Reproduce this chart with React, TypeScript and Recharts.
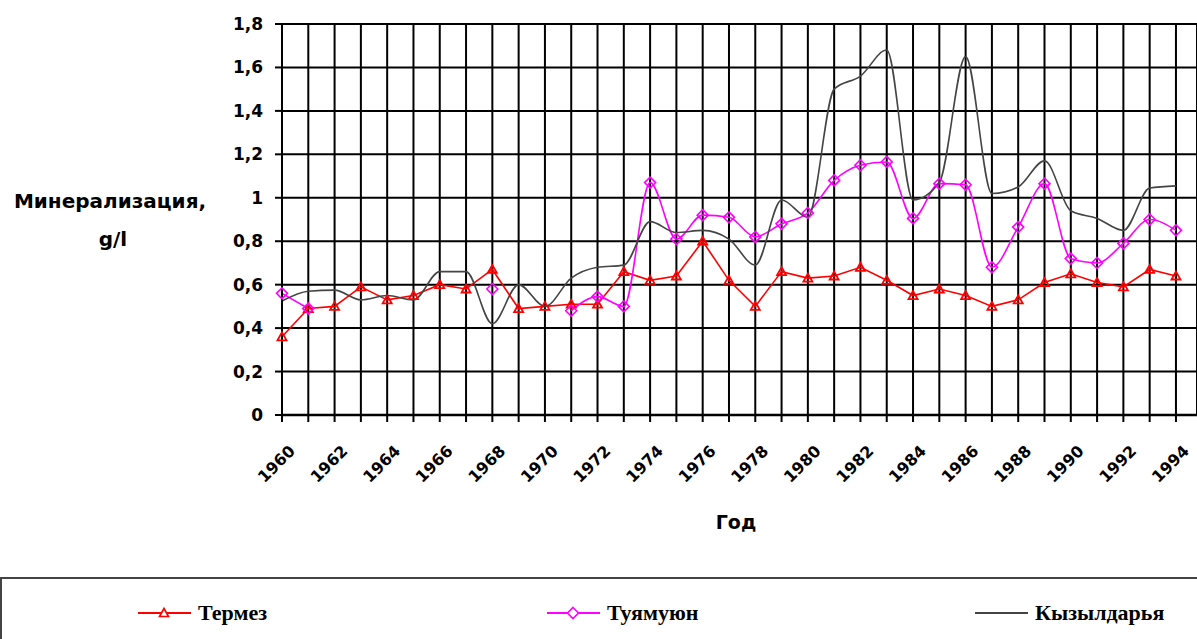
import { LineChart, Line, XAxis, YAxis, CartesianGrid, Legend, Label } from "recharts"

const years = [
    1960, 1961, 1962, 1963, 1964, 1965, 1966, 1967, 1968, 1969,
    1970, 1971, 1972, 1973, 1974, 1975, 1976, 1977, 1978, 1979,
    1980, 1981, 1982, 1983, 1984, 1985, 1986, 1987, 1988, 1989,
    1990, 1991, 1992, 1993, 1994,
]
const termez = [
    0.36, 0.49, 0.5, 0.59, 0.53, 0.55, 0.6, 0.58, 0.67, 0.49,
    0.5, 0.51, 0.51, 0.66, 0.62, 0.64, 0.8, 0.62, 0.5, 0.66,
    0.63, 0.64, 0.68, 0.62, 0.55, 0.58, 0.55, 0.5, 0.53, 0.61,
    0.65, 0.61, 0.59, 0.67, 0.64,
]
const tuyamuyun = [
    0.56, 0.49, null, null, null, null, null, null, 0.58, null,
    null, 0.48, 0.545, 0.5, 1.07, 0.81, 0.92, 0.91, 0.82, 0.88,
    0.93, 1.08, 1.15, 1.165, 0.905, 1.065, 1.06, 0.68, 0.865, 1.065,
    0.72, 0.7, 0.79, 0.9, 0.85,
]
const kyzyldarya = [
    0.525, 0.57, 0.575, 0.53, 0.55, 0.53, 0.66, 0.66, 0.42, 0.6,
    0.5, 0.63, 0.68, 0.69, 0.89, 0.84, 0.85, 0.81, 0.69, 0.99,
    0.91, 1.5, 1.56, 1.68, 0.99, 1.07, 1.65, 1.02, 1.05, 1.17,
    0.94, 0.905, 0.85, 1.045, 1.055,
]
const yTicks = [0, 0.2, 0.4, 0.6, 0.8, 1, 1.2, 1.4, 1.6, 1.8]
const seriesNames = ["Термез", "Туямуюн", "Кызылдарья"]

const data = years.map((year, i) => ({
    year,
    termez: termez[i],
    tuyamuyun: tuyamuyun[i],
    kyzyldarya: kyzyldarya[i],
}))

const SANS = "'DejaVu Sans', sans-serif"
const SERIF = "'Liberation Serif', 'DejaVu Serif', serif"

const tickStyle = { fontFamily: SANS, fontWeight: "bold", fontSize: 17, fill: "#000" }

function TriangleDot(props: any) {
    const { cx, cy, key } = props
    if (cx == null || cy == null) return <g key={key} />
    return (
        <polygon key={key}
            points={`${cx},${cy - 4.5} ${cx - 4.5},${cy + 3.5} ${cx + 4.5},${cy + 3.5}`}
            fill="none" stroke="#ff0000" strokeWidth={1.8} />
    )
}

function DiamondDot(props: any) {
    const { cx, cy, key } = props
    if (cx == null || cy == null) return <g key={key} />
    return (
        <polygon key={key}
            points={`${cx},${cy - 5.5} ${cx + 5.5},${cy} ${cx},${cy + 5.5} ${cx - 5.5},${cy}`}
            fill="none" stroke="#ff00ff" strokeWidth={1.6} />
    )
}

function XTick({ x, y, payload }: any) {
    if (payload.value % 2 !== 0) return <g />
    return (
        <g transform={`translate(${x + 10},${y + 24})`}>
            <text textAnchor="end" dy="0.36em" transform="rotate(-45)" style={{ ...tickStyle, fontSize: 16 }}>
                {payload.value}
            </text>
        </g>
    )
}

function YTitle() {
    return (
        <g>
            <text x={110} y={208} textAnchor="middle" style={{ ...tickStyle, fontSize: 20 }}>Минерализация,</text>
            <text x={113} y={246} textAnchor="middle" style={{ ...tickStyle, fontSize: 20 }}>g/l</text>
        </g>
    )
}

function XTitle() {
    return <text x={736} y={529} textAnchor="middle" style={{ ...tickStyle, fontSize: 19 }}>Год</text>
}

const legendItems = [
    { name: seriesNames[0], color: "#ff0000", marker: "triangle", left: 138 },
    { name: seriesNames[1], color: "#ff00ff", marker: "diamond", left: 547 },
    { name: seriesNames[2], color: "#444", marker: "none", left: 975 },
]

function LegendBox() {
    return (
        <div style={{ position: "relative", width: 1240, height: 90, border: "2px solid #444", boxSizing: "border-box", background: "#fff" }}>
            {legendItems.map(item => (
                <div key={item.name} style={{ position: "absolute", left: item.left - 2, top: 20, height: 28, display: "flex", alignItems: "center" }}>
                    <svg width={54} height={14} style={{ display: "block" }}>
                        <line x1={0} y1={7} x2={53} y2={7} stroke={item.color} strokeWidth={2} />
                        {item.marker === "triangle" && <polygon points="26,2.5 21.5,10.5 30.5,10.5" fill="#fff" stroke={item.color} strokeWidth={1.6} />}
                        {item.marker === "diamond" && <polygon points="26,1.5 31.5,7 26,12.5 20.5,7" fill="#fff" stroke={item.color} strokeWidth={1.6} />}
                    </svg>
                    <span style={{ marginLeft: 6, fontFamily: SERIF, fontWeight: "bold", fontSize: 22, color: "#000" }}>{item.name}</span>
                </div>
            ))}
        </div>
    )
}

export default function App() {
    return (
        <div style={{ width: 1197, height: 639, background: "#fff" }}>
            <style>{"body{margin:0;overflow:hidden}"}</style>
            <LineChart width={1197} height={639} data={data} margin={{ top: 24, right: 0, bottom: 164, left: 0 }}>
                <CartesianGrid stroke="#000" strokeWidth={2} />
                <XAxis dataKey="year" type="number" domain={[1960, 1994.8]} ticks={years} interval={0}
                    height={60} tickSize={7} tick={<XTick />}
                    axisLine={{ stroke: "#000", strokeWidth: 2.5 }} tickLine={{ stroke: "#000", strokeWidth: 2 }}>
                    <Label content={<XTitle />} />
                </XAxis>
                <YAxis domain={[0, 1.8]} ticks={yTicks} width={282} tickSize={7} tickMargin={12}
                    tick={tickStyle} tickFormatter={(v: number) => String(v).replace(".", ",")}
                    axisLine={{ stroke: "#000", strokeWidth: 2 }} tickLine={{ stroke: "#000", strokeWidth: 2 }}>
                    <Label content={<YTitle />} />
                </YAxis>
                <Line dataKey="termez" name={seriesNames[0]} type="linear" stroke="#ff0000" strokeWidth={1.6}
                    dot={TriangleDot} activeDot={false} isAnimationActive={false} />
                <Line dataKey="tuyamuyun" name={seriesNames[1]} type="monotone" stroke="#ff00ff" strokeWidth={1.6}
                    dot={DiamondDot} activeDot={false} isAnimationActive={false} />
                <Line dataKey="kyzyldarya" name={seriesNames[2]} type="monotone" stroke="#444" strokeWidth={1.6}
                    dot={false} activeDot={false} isAnimationActive={false} />
                <Legend layout="horizontal" verticalAlign="middle" align="center" content={<LegendBox />}
                    wrapperStyle={{ left: 0, top: 577, width: 1240, height: 90 }} />
            </LineChart>
        </div>
    )
}
